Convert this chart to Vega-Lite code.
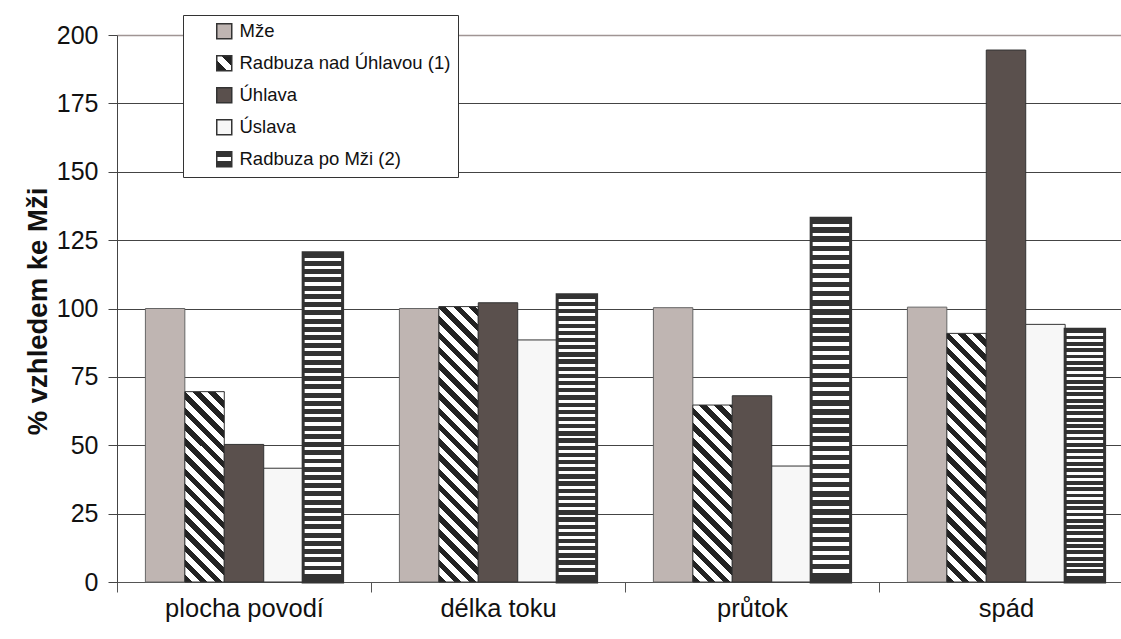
{
  "$schema": "https://vega.github.io/schema/vega-lite/v6.json",
  "autosize": {"type": "none"},
  "padding": {"left": 117, "top": 35, "right": 0, "bottom": 57},
  "width": 1004,
  "height": 547,
  "config": {"font": "Liberation Sans", "view": {"stroke": null}},
  "data": {"values": [
    {"category": "plocha povodí", "series": "Mže", "value": 100},
    {"category": "plocha povodí", "series": "Radbuza nad Úhlavou (1)", "value": 69.6},
    {"category": "plocha povodí", "series": "Úhlava", "value": 50.3},
    {"category": "plocha povodí", "series": "Úslava", "value": 41.6},
    {"category": "plocha povodí", "series": "Radbuza po Mži (2)", "value": 120.4},
    {"category": "délka toku", "series": "Mže", "value": 100},
    {"category": "délka toku", "series": "Radbuza nad Úhlavou (1)", "value": 100.7},
    {"category": "délka toku", "series": "Úhlava", "value": 102.1},
    {"category": "délka toku", "series": "Úslava", "value": 88.5},
    {"category": "délka toku", "series": "Radbuza po Mži (2)", "value": 105},
    {"category": "průtok", "series": "Mže", "value": 100.3},
    {"category": "průtok", "series": "Radbuza nad Úhlavou (1)", "value": 64.7},
    {"category": "průtok", "series": "Úhlava", "value": 68.1},
    {"category": "průtok", "series": "Úslava", "value": 42.4},
    {"category": "průtok", "series": "Radbuza po Mži (2)", "value": 133},
    {"category": "spád", "series": "Mže", "value": 100.5},
    {"category": "spád", "series": "Radbuza nad Úhlavou (1)", "value": 90.9},
    {"category": "spád", "series": "Úhlava", "value": 194.5},
    {"category": "spád", "series": "Úslava", "value": 94.2},
    {"category": "spád", "series": "Radbuza po Mži (2)", "value": 92.4}
  ]},
  "mark": {"type": "bar"},
  "encoding": {
    "x": {
      "field": "category", "type": "nominal",
      "sort": ["plocha povodí", "délka toku", "průtok", "spád"],
      "scale": {"range": [0, 1016], "paddingInner": 0, "paddingOuter": 0},
      "axis": {"title": null, "labelAngle": 0, "tickBand": "extent", "tickSize": 10, "labelFontSize": 25.5, "labelPadding": 4, "labelColor": "#111", "domainColor": "#555", "tickColor": "#555", "grid": false}
    },
    "xOffset": {
      "field": "series", "type": "nominal",
      "sort": ["Mže", "Radbuza nad Úhlavou (1)", "Úhlava", "Úslava", "Radbuza po Mži (2)"],
      "scale": {"paddingInner": 0, "paddingOuter": 0.72}
    },
    "y": {
      "field": "value", "type": "quantitative",
      "scale": {"domain": [0, 200], "nice": false},
      "axis": {
        "title": "% vzhledem ke Mži", "titleFontSize": 27.5, "titleFontWeight": "bold", "titleColor": "#111",
        "titleAngle": -90, "titleX": -79, "titleY": 276, "titleBaseline": "middle", "titleAlign": "center",
        "values": [0, 25, 50, 75, 100, 125, 150, 175, 200],
        "tickSize": 9, "labelFontSize": 25, "labelPadding": 10, "labelColor": "#111",
        "domainColor": "#444", "tickColor": "#444",
        "grid": true,
        "gridColor": {"condition": {"test": "datum.value === 200", "value": "#a09594"}, "value": "#444"},
        "gridWidth": {"condition": {"test": "datum.value === 200", "value": 1.5}, "value": 1}
      }
    },
    "stroke": {"condition": [{"test": "datum.series === 'Mže'", "value": "#666"}], "value": "#333"},
    "strokeWidth": {"condition": [{"test": "datum.series === 'Radbuza po Mži (2)'", "value": 3}], "value": 1},
    "fill": {
      "field": "series", "type": "nominal",
      "scale": {
        "domain": ["Mže", "Radbuza nad Úhlavou (1)", "Úhlava", "Úslava", "Radbuza po Mži (2)"],
        "range": [
          "#bfb5b2",
          {"expr": "{gradient: 'linear', x1: 0, y1: 1, x2: 1, y2: 0, stops: [{offset: 0, color: '#222'}, {offset: 0.36, color: '#222'}, {offset: 0.36, color: '#fff'}, {offset: 0.64, color: '#fff'}, {offset: 0.64, color: '#222'}, {offset: 1, color: '#222'}]}"},
          "#5a504d",
          "#f7f7f7",
          {"expr": "{gradient: 'linear', x1: 0, y1: 0, x2: 0, y2: 1, stops: [{offset: 0, color: '#333'}, {offset: 0.38, color: '#333'}, {offset: 0.38, color: '#fff'}, {offset: 0.6, color: '#fff'}, {offset: 0.6, color: '#333'}, {offset: 1, color: '#333'}]}"}
        ]
      },
      "legend": {
        "title": null, "orient": "none", "legendX": 66, "legendY": -20,
        "padding": 7, "rowPadding": 10, "symbolType": "square", "symbolSize": 225,
        "symbolOffset": 25, "labelOffset": 6, "labelFontSize": 18.5, "labelColor": "#111", "labelLimit": 0,
        "strokeColor": "#333", "fillColor": "#ffffff",
        "encode": {"symbols": {
          "stroke": {"value": "#333"},
          "strokeWidth": {"value": 1}
        }}
      },
      "condition": [
        {"test": "datum.series === 'Radbuza nad Úhlavou (1)' && datum.category === 'plocha povodí'", "value": {"gradient": "linear", "x1": 0, "y1": 1, "x2": 0.3334, "y2": -0.6095, "stops": [{"offset":0,"color":"#222"},{"offset":0.0238,"color":"#222"},{"offset":0.0238,"color":"#fff"},{"offset":0.0476,"color":"#fff"},{"offset":0.0476,"color":"#222"},{"offset":0.0714,"color":"#222"},{"offset":0.0714,"color":"#fff"},{"offset":0.0952,"color":"#fff"},{"offset":0.0952,"color":"#222"},{"offset":0.119,"color":"#222"},{"offset":0.119,"color":"#fff"},{"offset":0.1429,"color":"#fff"},{"offset":0.1429,"color":"#222"},{"offset":0.1667,"color":"#222"},{"offset":0.1667,"color":"#fff"},{"offset":0.1905,"color":"#fff"},{"offset":0.1905,"color":"#222"},{"offset":0.2143,"color":"#222"},{"offset":0.2143,"color":"#fff"},{"offset":0.2381,"color":"#fff"},{"offset":0.2381,"color":"#222"},{"offset":0.2619,"color":"#222"},{"offset":0.2619,"color":"#fff"},{"offset":0.2857,"color":"#fff"},{"offset":0.2857,"color":"#222"},{"offset":0.3095,"color":"#222"},{"offset":0.3095,"color":"#fff"},{"offset":0.3333,"color":"#fff"},{"offset":0.3333,"color":"#222"},{"offset":0.3571,"color":"#222"},{"offset":0.3571,"color":"#fff"},{"offset":0.381,"color":"#fff"},{"offset":0.381,"color":"#222"},{"offset":0.4048,"color":"#222"},{"offset":0.4048,"color":"#fff"},{"offset":0.4286,"color":"#fff"},{"offset":0.4286,"color":"#222"},{"offset":0.4524,"color":"#222"},{"offset":0.4524,"color":"#fff"},{"offset":0.4762,"color":"#fff"},{"offset":0.4762,"color":"#222"},{"offset":0.5,"color":"#222"},{"offset":0.5,"color":"#fff"},{"offset":0.5238,"color":"#fff"},{"offset":0.5238,"color":"#222"},{"offset":0.5476,"color":"#222"},{"offset":0.5476,"color":"#fff"},{"offset":0.5714,"color":"#fff"},{"offset":0.5714,"color":"#222"},{"offset":0.5952,"color":"#222"},{"offset":0.5952,"color":"#fff"},{"offset":0.619,"color":"#fff"},{"offset":0.619,"color":"#222"},{"offset":0.6429,"color":"#222"},{"offset":0.6429,"color":"#fff"},{"offset":0.6667,"color":"#fff"},{"offset":0.6667,"color":"#222"},{"offset":0.6905,"color":"#222"},{"offset":0.6905,"color":"#fff"},{"offset":0.7143,"color":"#fff"},{"offset":0.7143,"color":"#222"},{"offset":0.7381,"color":"#222"},{"offset":0.7381,"color":"#fff"},{"offset":0.7619,"color":"#fff"},{"offset":0.7619,"color":"#222"},{"offset":0.7857,"color":"#222"},{"offset":0.7857,"color":"#fff"},{"offset":0.8095,"color":"#fff"},{"offset":0.8095,"color":"#222"},{"offset":0.8333,"color":"#222"},{"offset":0.8333,"color":"#fff"},{"offset":0.8571,"color":"#fff"},{"offset":0.8571,"color":"#222"},{"offset":0.881,"color":"#222"},{"offset":0.881,"color":"#fff"},{"offset":0.9048,"color":"#fff"},{"offset":0.9048,"color":"#222"},{"offset":0.9286,"color":"#222"},{"offset":0.9286,"color":"#fff"},{"offset":0.9524,"color":"#fff"},{"offset":0.9524,"color":"#222"},{"offset":0.9762,"color":"#222"},{"offset":0.9762,"color":"#fff"},{"offset":1,"color":"#fff"}]}},
        {"test": "datum.series === 'Radbuza nad Úhlavou (1)' && datum.category === 'délka toku'", "value": {"gradient": "linear", "x1": 0, "y1": 1, "x2": 0.1629, "y2": -0.1372, "stops": [{"offset":0,"color":"#222"},{"offset":0.0238,"color":"#222"},{"offset":0.0238,"color":"#fff"},{"offset":0.0476,"color":"#fff"},{"offset":0.0476,"color":"#222"},{"offset":0.0714,"color":"#222"},{"offset":0.0714,"color":"#fff"},{"offset":0.0952,"color":"#fff"},{"offset":0.0952,"color":"#222"},{"offset":0.119,"color":"#222"},{"offset":0.119,"color":"#fff"},{"offset":0.1429,"color":"#fff"},{"offset":0.1429,"color":"#222"},{"offset":0.1667,"color":"#222"},{"offset":0.1667,"color":"#fff"},{"offset":0.1905,"color":"#fff"},{"offset":0.1905,"color":"#222"},{"offset":0.2143,"color":"#222"},{"offset":0.2143,"color":"#fff"},{"offset":0.2381,"color":"#fff"},{"offset":0.2381,"color":"#222"},{"offset":0.2619,"color":"#222"},{"offset":0.2619,"color":"#fff"},{"offset":0.2857,"color":"#fff"},{"offset":0.2857,"color":"#222"},{"offset":0.3095,"color":"#222"},{"offset":0.3095,"color":"#fff"},{"offset":0.3333,"color":"#fff"},{"offset":0.3333,"color":"#222"},{"offset":0.3571,"color":"#222"},{"offset":0.3571,"color":"#fff"},{"offset":0.381,"color":"#fff"},{"offset":0.381,"color":"#222"},{"offset":0.4048,"color":"#222"},{"offset":0.4048,"color":"#fff"},{"offset":0.4286,"color":"#fff"},{"offset":0.4286,"color":"#222"},{"offset":0.4524,"color":"#222"},{"offset":0.4524,"color":"#fff"},{"offset":0.4762,"color":"#fff"},{"offset":0.4762,"color":"#222"},{"offset":0.5,"color":"#222"},{"offset":0.5,"color":"#fff"},{"offset":0.5238,"color":"#fff"},{"offset":0.5238,"color":"#222"},{"offset":0.5476,"color":"#222"},{"offset":0.5476,"color":"#fff"},{"offset":0.5714,"color":"#fff"},{"offset":0.5714,"color":"#222"},{"offset":0.5952,"color":"#222"},{"offset":0.5952,"color":"#fff"},{"offset":0.619,"color":"#fff"},{"offset":0.619,"color":"#222"},{"offset":0.6429,"color":"#222"},{"offset":0.6429,"color":"#fff"},{"offset":0.6667,"color":"#fff"},{"offset":0.6667,"color":"#222"},{"offset":0.6905,"color":"#222"},{"offset":0.6905,"color":"#fff"},{"offset":0.7143,"color":"#fff"},{"offset":0.7143,"color":"#222"},{"offset":0.7381,"color":"#222"},{"offset":0.7381,"color":"#fff"},{"offset":0.7619,"color":"#fff"},{"offset":0.7619,"color":"#222"},{"offset":0.7857,"color":"#222"},{"offset":0.7857,"color":"#fff"},{"offset":0.8095,"color":"#fff"},{"offset":0.8095,"color":"#222"},{"offset":0.8333,"color":"#222"},{"offset":0.8333,"color":"#fff"},{"offset":0.8571,"color":"#fff"},{"offset":0.8571,"color":"#222"},{"offset":0.881,"color":"#222"},{"offset":0.881,"color":"#fff"},{"offset":0.9048,"color":"#fff"},{"offset":0.9048,"color":"#222"},{"offset":0.9286,"color":"#222"},{"offset":0.9286,"color":"#fff"},{"offset":0.9524,"color":"#fff"},{"offset":0.9524,"color":"#222"},{"offset":0.9762,"color":"#222"},{"offset":0.9762,"color":"#fff"},{"offset":1,"color":"#fff"}]}},
        {"test": "datum.series === 'Radbuza nad Úhlavou (1)' && datum.category === 'průtok'", "value": {"gradient": "linear", "x1": 0, "y1": 1, "x2": 0.3833, "y2": -0.7203, "stops": [{"offset":0,"color":"#222"},{"offset":0.0238,"color":"#222"},{"offset":0.0238,"color":"#fff"},{"offset":0.0476,"color":"#fff"},{"offset":0.0476,"color":"#222"},{"offset":0.0714,"color":"#222"},{"offset":0.0714,"color":"#fff"},{"offset":0.0952,"color":"#fff"},{"offset":0.0952,"color":"#222"},{"offset":0.119,"color":"#222"},{"offset":0.119,"color":"#fff"},{"offset":0.1429,"color":"#fff"},{"offset":0.1429,"color":"#222"},{"offset":0.1667,"color":"#222"},{"offset":0.1667,"color":"#fff"},{"offset":0.1905,"color":"#fff"},{"offset":0.1905,"color":"#222"},{"offset":0.2143,"color":"#222"},{"offset":0.2143,"color":"#fff"},{"offset":0.2381,"color":"#fff"},{"offset":0.2381,"color":"#222"},{"offset":0.2619,"color":"#222"},{"offset":0.2619,"color":"#fff"},{"offset":0.2857,"color":"#fff"},{"offset":0.2857,"color":"#222"},{"offset":0.3095,"color":"#222"},{"offset":0.3095,"color":"#fff"},{"offset":0.3333,"color":"#fff"},{"offset":0.3333,"color":"#222"},{"offset":0.3571,"color":"#222"},{"offset":0.3571,"color":"#fff"},{"offset":0.381,"color":"#fff"},{"offset":0.381,"color":"#222"},{"offset":0.4048,"color":"#222"},{"offset":0.4048,"color":"#fff"},{"offset":0.4286,"color":"#fff"},{"offset":0.4286,"color":"#222"},{"offset":0.4524,"color":"#222"},{"offset":0.4524,"color":"#fff"},{"offset":0.4762,"color":"#fff"},{"offset":0.4762,"color":"#222"},{"offset":0.5,"color":"#222"},{"offset":0.5,"color":"#fff"},{"offset":0.5238,"color":"#fff"},{"offset":0.5238,"color":"#222"},{"offset":0.5476,"color":"#222"},{"offset":0.5476,"color":"#fff"},{"offset":0.5714,"color":"#fff"},{"offset":0.5714,"color":"#222"},{"offset":0.5952,"color":"#222"},{"offset":0.5952,"color":"#fff"},{"offset":0.619,"color":"#fff"},{"offset":0.619,"color":"#222"},{"offset":0.6429,"color":"#222"},{"offset":0.6429,"color":"#fff"},{"offset":0.6667,"color":"#fff"},{"offset":0.6667,"color":"#222"},{"offset":0.6905,"color":"#222"},{"offset":0.6905,"color":"#fff"},{"offset":0.7143,"color":"#fff"},{"offset":0.7143,"color":"#222"},{"offset":0.7381,"color":"#222"},{"offset":0.7381,"color":"#fff"},{"offset":0.7619,"color":"#fff"},{"offset":0.7619,"color":"#222"},{"offset":0.7857,"color":"#222"},{"offset":0.7857,"color":"#fff"},{"offset":0.8095,"color":"#fff"},{"offset":0.8095,"color":"#222"},{"offset":0.8333,"color":"#222"},{"offset":0.8333,"color":"#fff"},{"offset":0.8571,"color":"#fff"},{"offset":0.8571,"color":"#222"},{"offset":0.881,"color":"#222"},{"offset":0.881,"color":"#fff"},{"offset":0.9048,"color":"#fff"},{"offset":0.9048,"color":"#222"},{"offset":0.9286,"color":"#222"},{"offset":0.9286,"color":"#fff"},{"offset":0.9524,"color":"#fff"},{"offset":0.9524,"color":"#222"},{"offset":0.9762,"color":"#222"},{"offset":0.9762,"color":"#fff"},{"offset":1,"color":"#fff"}]}},
        {"test": "datum.series === 'Radbuza nad Úhlavou (1)' && datum.category === 'spád'", "value": {"gradient": "linear", "x1": 0, "y1": 1, "x2": 0.1989, "y2": -0.254, "stops": [{"offset":0,"color":"#222"},{"offset":0.0238,"color":"#222"},{"offset":0.0238,"color":"#fff"},{"offset":0.0476,"color":"#fff"},{"offset":0.0476,"color":"#222"},{"offset":0.0714,"color":"#222"},{"offset":0.0714,"color":"#fff"},{"offset":0.0952,"color":"#fff"},{"offset":0.0952,"color":"#222"},{"offset":0.119,"color":"#222"},{"offset":0.119,"color":"#fff"},{"offset":0.1429,"color":"#fff"},{"offset":0.1429,"color":"#222"},{"offset":0.1667,"color":"#222"},{"offset":0.1667,"color":"#fff"},{"offset":0.1905,"color":"#fff"},{"offset":0.1905,"color":"#222"},{"offset":0.2143,"color":"#222"},{"offset":0.2143,"color":"#fff"},{"offset":0.2381,"color":"#fff"},{"offset":0.2381,"color":"#222"},{"offset":0.2619,"color":"#222"},{"offset":0.2619,"color":"#fff"},{"offset":0.2857,"color":"#fff"},{"offset":0.2857,"color":"#222"},{"offset":0.3095,"color":"#222"},{"offset":0.3095,"color":"#fff"},{"offset":0.3333,"color":"#fff"},{"offset":0.3333,"color":"#222"},{"offset":0.3571,"color":"#222"},{"offset":0.3571,"color":"#fff"},{"offset":0.381,"color":"#fff"},{"offset":0.381,"color":"#222"},{"offset":0.4048,"color":"#222"},{"offset":0.4048,"color":"#fff"},{"offset":0.4286,"color":"#fff"},{"offset":0.4286,"color":"#222"},{"offset":0.4524,"color":"#222"},{"offset":0.4524,"color":"#fff"},{"offset":0.4762,"color":"#fff"},{"offset":0.4762,"color":"#222"},{"offset":0.5,"color":"#222"},{"offset":0.5,"color":"#fff"},{"offset":0.5238,"color":"#fff"},{"offset":0.5238,"color":"#222"},{"offset":0.5476,"color":"#222"},{"offset":0.5476,"color":"#fff"},{"offset":0.5714,"color":"#fff"},{"offset":0.5714,"color":"#222"},{"offset":0.5952,"color":"#222"},{"offset":0.5952,"color":"#fff"},{"offset":0.619,"color":"#fff"},{"offset":0.619,"color":"#222"},{"offset":0.6429,"color":"#222"},{"offset":0.6429,"color":"#fff"},{"offset":0.6667,"color":"#fff"},{"offset":0.6667,"color":"#222"},{"offset":0.6905,"color":"#222"},{"offset":0.6905,"color":"#fff"},{"offset":0.7143,"color":"#fff"},{"offset":0.7143,"color":"#222"},{"offset":0.7381,"color":"#222"},{"offset":0.7381,"color":"#fff"},{"offset":0.7619,"color":"#fff"},{"offset":0.7619,"color":"#222"},{"offset":0.7857,"color":"#222"},{"offset":0.7857,"color":"#fff"},{"offset":0.8095,"color":"#fff"},{"offset":0.8095,"color":"#222"},{"offset":0.8333,"color":"#222"},{"offset":0.8333,"color":"#fff"},{"offset":0.8571,"color":"#fff"},{"offset":0.8571,"color":"#222"},{"offset":0.881,"color":"#222"},{"offset":0.881,"color":"#fff"},{"offset":0.9048,"color":"#fff"},{"offset":0.9048,"color":"#222"},{"offset":0.9286,"color":"#222"},{"offset":0.9286,"color":"#fff"},{"offset":0.9524,"color":"#fff"},{"offset":0.9524,"color":"#222"},{"offset":0.9762,"color":"#222"},{"offset":0.9762,"color":"#fff"},{"offset":1,"color":"#fff"}]}},
        {"test": "datum.series === 'Radbuza po Mži (2)'", "value": {"gradient": "linear", "x1": 0, "y1": 0, "x2": 0, "y2": 1, "stops": [{"offset":0,"color":"#333"},{"offset":0.015,"color":"#333"},{"offset":0.015,"color":"#fff"},{"offset":0.025,"color":"#fff"},{"offset":0.025,"color":"#333"},{"offset":0.04,"color":"#333"},{"offset":0.04,"color":"#fff"},{"offset":0.05,"color":"#fff"},{"offset":0.05,"color":"#333"},{"offset":0.065,"color":"#333"},{"offset":0.065,"color":"#fff"},{"offset":0.075,"color":"#fff"},{"offset":0.075,"color":"#333"},{"offset":0.09,"color":"#333"},{"offset":0.09,"color":"#fff"},{"offset":0.1,"color":"#fff"},{"offset":0.1,"color":"#333"},{"offset":0.115,"color":"#333"},{"offset":0.115,"color":"#fff"},{"offset":0.125,"color":"#fff"},{"offset":0.125,"color":"#333"},{"offset":0.14,"color":"#333"},{"offset":0.14,"color":"#fff"},{"offset":0.15,"color":"#fff"},{"offset":0.15,"color":"#333"},{"offset":0.165,"color":"#333"},{"offset":0.165,"color":"#fff"},{"offset":0.175,"color":"#fff"},{"offset":0.175,"color":"#333"},{"offset":0.19,"color":"#333"},{"offset":0.19,"color":"#fff"},{"offset":0.2,"color":"#fff"},{"offset":0.2,"color":"#333"},{"offset":0.215,"color":"#333"},{"offset":0.215,"color":"#fff"},{"offset":0.225,"color":"#fff"},{"offset":0.225,"color":"#333"},{"offset":0.24,"color":"#333"},{"offset":0.24,"color":"#fff"},{"offset":0.25,"color":"#fff"},{"offset":0.25,"color":"#333"},{"offset":0.265,"color":"#333"},{"offset":0.265,"color":"#fff"},{"offset":0.275,"color":"#fff"},{"offset":0.275,"color":"#333"},{"offset":0.29,"color":"#333"},{"offset":0.29,"color":"#fff"},{"offset":0.3,"color":"#fff"},{"offset":0.3,"color":"#333"},{"offset":0.315,"color":"#333"},{"offset":0.315,"color":"#fff"},{"offset":0.325,"color":"#fff"},{"offset":0.325,"color":"#333"},{"offset":0.34,"color":"#333"},{"offset":0.34,"color":"#fff"},{"offset":0.35,"color":"#fff"},{"offset":0.35,"color":"#333"},{"offset":0.365,"color":"#333"},{"offset":0.365,"color":"#fff"},{"offset":0.375,"color":"#fff"},{"offset":0.375,"color":"#333"},{"offset":0.39,"color":"#333"},{"offset":0.39,"color":"#fff"},{"offset":0.4,"color":"#fff"},{"offset":0.4,"color":"#333"},{"offset":0.415,"color":"#333"},{"offset":0.415,"color":"#fff"},{"offset":0.425,"color":"#fff"},{"offset":0.425,"color":"#333"},{"offset":0.44,"color":"#333"},{"offset":0.44,"color":"#fff"},{"offset":0.45,"color":"#fff"},{"offset":0.45,"color":"#333"},{"offset":0.465,"color":"#333"},{"offset":0.465,"color":"#fff"},{"offset":0.475,"color":"#fff"},{"offset":0.475,"color":"#333"},{"offset":0.49,"color":"#333"},{"offset":0.49,"color":"#fff"},{"offset":0.5,"color":"#fff"},{"offset":0.5,"color":"#333"},{"offset":0.515,"color":"#333"},{"offset":0.515,"color":"#fff"},{"offset":0.525,"color":"#fff"},{"offset":0.525,"color":"#333"},{"offset":0.54,"color":"#333"},{"offset":0.54,"color":"#fff"},{"offset":0.55,"color":"#fff"},{"offset":0.55,"color":"#333"},{"offset":0.565,"color":"#333"},{"offset":0.565,"color":"#fff"},{"offset":0.575,"color":"#fff"},{"offset":0.575,"color":"#333"},{"offset":0.59,"color":"#333"},{"offset":0.59,"color":"#fff"},{"offset":0.6,"color":"#fff"},{"offset":0.6,"color":"#333"},{"offset":0.615,"color":"#333"},{"offset":0.615,"color":"#fff"},{"offset":0.625,"color":"#fff"},{"offset":0.625,"color":"#333"},{"offset":0.64,"color":"#333"},{"offset":0.64,"color":"#fff"},{"offset":0.65,"color":"#fff"},{"offset":0.65,"color":"#333"},{"offset":0.665,"color":"#333"},{"offset":0.665,"color":"#fff"},{"offset":0.675,"color":"#fff"},{"offset":0.675,"color":"#333"},{"offset":0.69,"color":"#333"},{"offset":0.69,"color":"#fff"},{"offset":0.7,"color":"#fff"},{"offset":0.7,"color":"#333"},{"offset":0.715,"color":"#333"},{"offset":0.715,"color":"#fff"},{"offset":0.725,"color":"#fff"},{"offset":0.725,"color":"#333"},{"offset":0.74,"color":"#333"},{"offset":0.74,"color":"#fff"},{"offset":0.75,"color":"#fff"},{"offset":0.75,"color":"#333"},{"offset":0.765,"color":"#333"},{"offset":0.765,"color":"#fff"},{"offset":0.775,"color":"#fff"},{"offset":0.775,"color":"#333"},{"offset":0.79,"color":"#333"},{"offset":0.79,"color":"#fff"},{"offset":0.8,"color":"#fff"},{"offset":0.8,"color":"#333"},{"offset":0.815,"color":"#333"},{"offset":0.815,"color":"#fff"},{"offset":0.825,"color":"#fff"},{"offset":0.825,"color":"#333"},{"offset":0.84,"color":"#333"},{"offset":0.84,"color":"#fff"},{"offset":0.85,"color":"#fff"},{"offset":0.85,"color":"#333"},{"offset":0.865,"color":"#333"},{"offset":0.865,"color":"#fff"},{"offset":0.875,"color":"#fff"},{"offset":0.875,"color":"#333"},{"offset":0.89,"color":"#333"},{"offset":0.89,"color":"#fff"},{"offset":0.9,"color":"#fff"},{"offset":0.9,"color":"#333"},{"offset":0.915,"color":"#333"},{"offset":0.915,"color":"#fff"},{"offset":0.925,"color":"#fff"},{"offset":0.925,"color":"#333"},{"offset":0.94,"color":"#333"},{"offset":0.94,"color":"#fff"},{"offset":0.95,"color":"#fff"},{"offset":0.95,"color":"#333"},{"offset":0.965,"color":"#333"},{"offset":0.965,"color":"#fff"},{"offset":0.975,"color":"#fff"},{"offset":0.975,"color":"#333"},{"offset":1,"color":"#333"}]}}
      ]
    }
  }
}
